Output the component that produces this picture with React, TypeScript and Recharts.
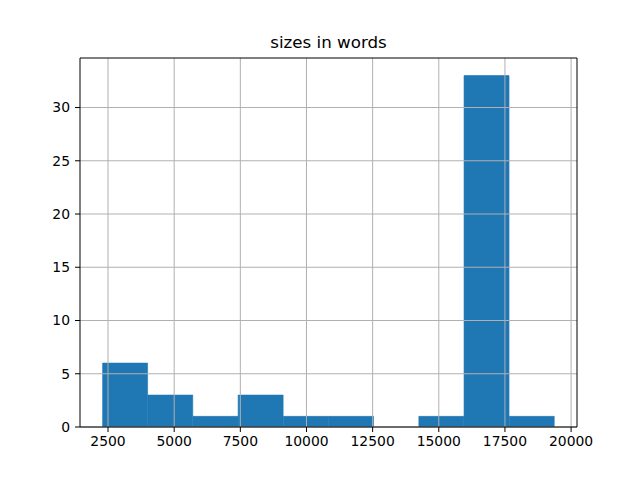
import React from "react";
import { BarChart, Bar, XAxis, YAxis, ReferenceLine } from "recharts";

// histogram of sizes in words: 10 bins
const binEdges = [2295, 4002, 5710, 7417, 9124, 10832, 12539, 14246, 15954, 17661, 19369];
const counts = [6, 3, 1, 3, 1, 1, 0, 1, 33, 1];
const xTicks = [2500, 5000, 7500, 10000, 12500, 15000, 17500, 20000];
const yTicks = [0, 5, 10, 15, 20, 25, 30];
const xDomain = [1441, 20223];
const yDomain = [0, 34.65];

const data = counts.map((c, i) => ({
  mid: (binEdges[i] + binEdges[i + 1]) / 2,
  count: c,
}));

const font = "'DejaVu Sans', sans-serif";
const tickStyle = { fontSize: 13.9, fill: "#000", fontFamily: font };

export default function App() {
  return (
    <div style={{ position: "fixed", left: 0, top: 0, width: 640, height: 480, background: "#fff" }}>
      <div
        style={{
          position: "absolute",
          left: 80,
          width: 497,
          top: 32,
          textAlign: "center",
          fontFamily: font,
          fontSize: 16.7,
          color: "#000",
        }}
      >
        sizes in words
      </div>
      <BarChart
        width={640}
        height={480}
        data={data}
        margin={{ top: 58, right: 63, bottom: 23, left: 0 }}
        barCategoryGap={0}
        barGap={0}
      >
        <XAxis
          dataKey="mid"
          type="number"
          domain={xDomain}
          ticks={xTicks}
          allowDataOverflow
          height={30}
          tickSize={5}
          tickMargin={4}
          tick={tickStyle}
          stroke="#000"
          tickLine={{ stroke: "#000" }}
          axisLine={{ stroke: "#000" }}
        />
        <YAxis
          type="number"
          domain={yDomain}
          ticks={yTicks}
          allowDataOverflow
          width={80}
          tickSize={5}
          tickMargin={5}
          tick={tickStyle}
          stroke="#000"
          tickLine={{ stroke: "#000" }}
          axisLine={{ stroke: "#000" }}
        />
        <Bar dataKey="count" fill="#1f77b4" stroke="#1f77b4" strokeWidth={0.6} isAnimationActive={false} />
        {xTicks.map((t) => (
          <ReferenceLine key={"x" + t} x={t} stroke="#b0b0b0" strokeWidth={1} />
        ))}
        {yTicks.map((t) => (
          <ReferenceLine key={"y" + t} y={t} stroke="#b0b0b0" strokeWidth={1} />
        ))}
        {/* top and right spines */}
        <ReferenceLine y={yDomain[1]} stroke="#000" strokeWidth={1} />
        <ReferenceLine x={xDomain[1]} stroke="#000" strokeWidth={1} />
      </BarChart>
    </div>
  );
}
